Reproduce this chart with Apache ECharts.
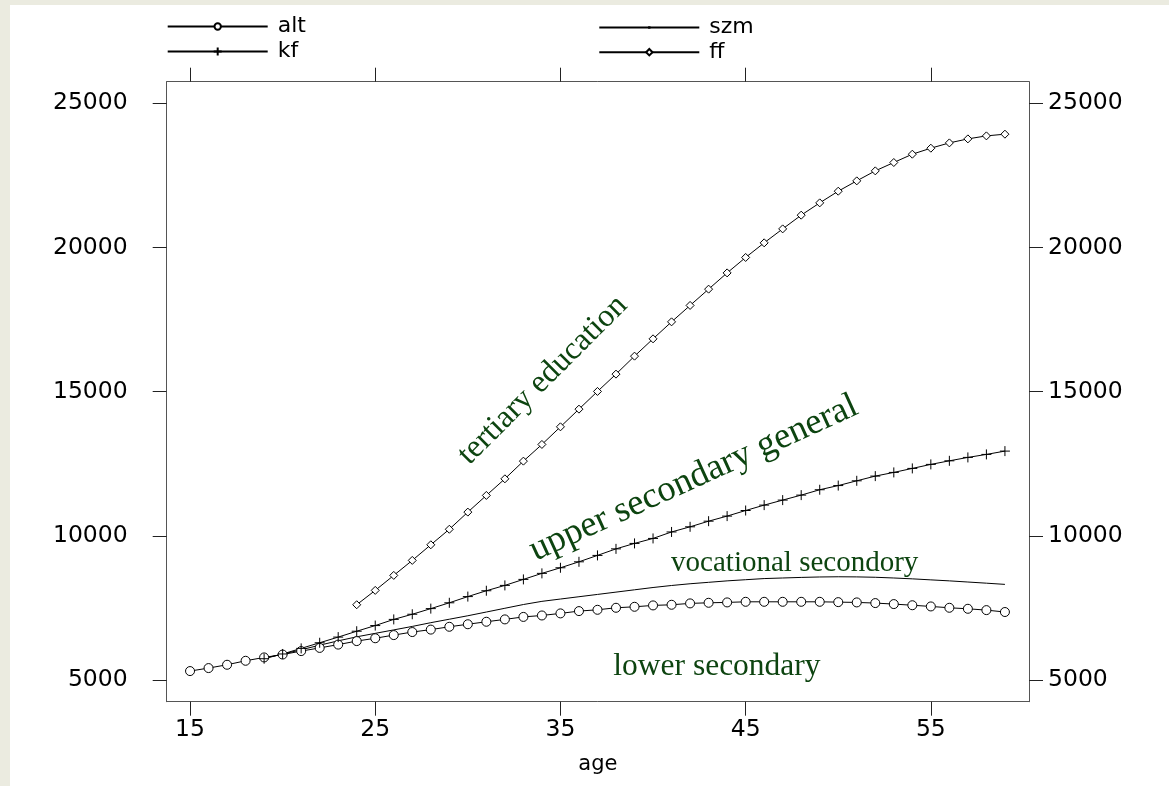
<!DOCTYPE html>
<html>
<head>
<meta charset="utf-8">
<script src="https://cdn.jsdelivr.net/npm/echarts@6/dist/echarts.min.js"></script>
<style>
  body { margin: 0; background: #ebebe0; }
  #main { position: absolute; left: 10px; top: 5px; width: 1159px; height: 781px; background: #fff; }
</style>
</head>
<body>
<div id="main"></div>
<script>
// ages 15..59
var ages = [15, 16, 17, 18, 19, 20, 21, 22, 23, 24, 25, 26, 27, 28, 29, 30, 31, 32, 33, 34, 35, 36, 37,
  38, 39, 40, 41, 42, 43, 44, 45, 46, 47, 48, 49, 50, 51, 52, 53, 54, 55, 56, 57, 58, 59];

// lower secondary (from 15)
var alt = [5312, 5416, 5531, 5669, 5785, 5885, 6005, 6115, 6230, 6352,
  6450, 6560, 6665, 6750, 6848, 6936, 7022, 7104, 7190, 7240,
  7312, 7392, 7437, 7507, 7541, 7589, 7611, 7659, 7680, 7693,
  7714, 7714, 7714, 7714, 7714, 7703, 7693, 7670, 7635, 7595,
  7553, 7507, 7472, 7426, 7360];

// vocational (from 19)
var szm = [5760, 5900, 6050, 6210, 6360, 6500, 6620, 6740, 6860, 6990,
  7110, 7230, 7360, 7490, 7620, 7730, 7810, 7890, 7970, 8050,
  8130, 8210, 8280, 8340, 8390, 8440, 8480, 8520, 8540, 8560,
  8575, 8582, 8578, 8565, 8540, 8510, 8475, 8440, 8400, 8360,
  8318];

// upper secondary general (from 19)
var kf = [5740, 5905, 6099, 6294, 6490, 6694, 6890, 7104, 7282, 7478,
  7680, 7895, 8098, 8283, 8491, 8700, 8894, 9101, 9323, 9550,
  9739, 9912, 10136, 10315, 10510, 10686, 10880, 11067, 11241, 11414,
  11600, 11745, 11910, 12073, 12201, 12340, 12479, 12603, 12721, 12825,
  12940];

// tertiary (from 24)
var ff = [7612, 8110, 8630, 9150, 9691, 10230, 10825, 11403, 11979, 12592,
  13171, 13782, 14395, 15009, 15609, 16233, 16833, 17422, 17991, 18556,
  19120, 19655, 20162, 20646, 21122, 21548, 21953, 22311, 22658, 22948,
  23236, 23444, 23628, 23767, 23871, 23930];

var xTicks = [15, 25, 35, 45, 55];
var yTicks = [5000, 10000, 15000, 20000, 25000];

// text labels placed in data coordinates
var notes = [
  { text: 'tertiary education', age: 34.05, value: 15400, size: 32, angle: 45 },
  { text: 'upper secondary general', age: 42.2, value: 12000, size: 36.5, angle: 24.5 },
  { text: 'vocational secondory', age: 47.65, value: 9050, size: 29, angle: 0 },
  { text: 'lower secondary', age: 43.45, value: 5470, size: 31.5, angle: 0 }
];

function pairs(startAge, vals) {
  var i0 = ages.indexOf(startAge);
  return vals.map(function (v, i) { return [ages[i0 + i], v]; });
}

var chart = echarts.init(document.getElementById('main'));
var sans = '"DejaVu Sans", sans-serif';
var lineCol = '#000';
var plain = function (v) { return String(v); };

var xCommon = {
  type: 'value', min: 13.74, max: 60.3,
  axisLine: { show: true, onZero: false, lineStyle: { color: '#555', width: 1 } },
  axisTick: { show: true, inside: false, length: 14, customValues: xTicks, lineStyle: { color: '#222' } },
  splitLine: { show: false }
};
var yCommon = {
  type: 'value', min: 4250, max: 25750,
  axisLine: { show: true, onZero: false, lineStyle: { color: '#555', width: 1 } },
  axisTick: { show: true, inside: false, length: 14, customValues: yTicks, lineStyle: { color: '#222' } },
  splitLine: { show: false }
};
var legendCommon = {
  orient: 'vertical', padding: 0, itemWidth: 100, selectedMode: false,
  textStyle: { fontFamily: sans, fontSize: 22, color: '#000', padding: [0, 0, 0, 5] }
};

var option = {
  animation: false,
  grid: { left: 156.7, top: 76.7, width: 862.3, height: 620 },
  legend: [
    Object.assign({ data: ['alt'], left: 156.7, top: 10.5, itemHeight: 8 }, legendCommon),
    Object.assign({ data: ['kf'], left: 156.7, top: 35.5, itemHeight: 10 }, legendCommon),
    Object.assign({ data: ['szm'], left: 588.3, top: 11.5, itemHeight: 3 }, legendCommon),
    Object.assign({ data: ['ff'], left: 588.3, top: 36.2, itemHeight: 8 }, legendCommon)
  ],
  xAxis: [
    Object.assign({
      position: 'bottom', name: 'age', nameLocation: 'middle', nameGap: 52,
      nameTextStyle: { fontFamily: sans, fontSize: 21, color: '#000' },
      axisLabel: { show: true, customValues: xTicks, margin: 16, fontFamily: sans, fontSize: 23.5, color: '#000', formatter: plain }
    }, xCommon),
    Object.assign({ position: 'top', axisLabel: { show: false } }, xCommon)
  ],
  yAxis: [
    Object.assign({
      position: 'left',
      axisLabel: { show: true, customValues: yTicks, margin: 39, fontFamily: sans, fontSize: 23.5, color: '#000', formatter: plain }
    }, yCommon),
    Object.assign({
      position: 'right',
      axisLabel: { show: true, customValues: yTicks, margin: 19, fontFamily: sans, fontSize: 23.5, color: '#000', formatter: plain }
    }, yCommon)
  ],
  series: [
    {
      name: 'alt', type: 'line', data: pairs(15, alt),
      symbol: 'circle', symbolSize: 9,
      lineStyle: { color: lineCol, width: 1 },
      itemStyle: { color: '#fff', borderColor: lineCol, borderWidth: 1 }
    },
    {
      name: 'szm', type: 'line', data: pairs(19, szm),
      symbol: 'rect', showSymbol: false,
      lineStyle: { color: lineCol, width: 1 },
      itemStyle: { color: lineCol }
    },
    {
      name: 'kf', type: 'line', data: pairs(19, kf),
      symbol: 'path://M5,0L5,10M0,5L10,5', symbolSize: 10,
      lineStyle: { color: lineCol, width: 1 },
      itemStyle: { color: '#fff', borderColor: lineCol, borderWidth: 1 }
    },
    {
      name: 'ff', type: 'line', data: pairs(24, ff),
      symbol: 'diamond', symbolSize: 8,
      lineStyle: { color: lineCol, width: 1 },
      itemStyle: { color: '#fff', borderColor: lineCol, borderWidth: 1 }
    }
  ]
};
chart.setOption(option);

chart.setOption({
  graphic: notes.map(function (n) {
    var p = chart.convertToPixel({ seriesIndex: 0 }, [n.age, n.value]);
    return {
      type: 'text', x: p[0], y: p[1], rotation: n.angle * Math.PI / 180, silent: true,
      style: {
        text: n.text, fill: '#0d4410', fontSize: n.size,
        fontFamily: '"Liberation Serif", "Times New Roman", serif',
        align: 'center', verticalAlign: 'middle'
      }
    };
  })
});
</script>
</body>
</html>
